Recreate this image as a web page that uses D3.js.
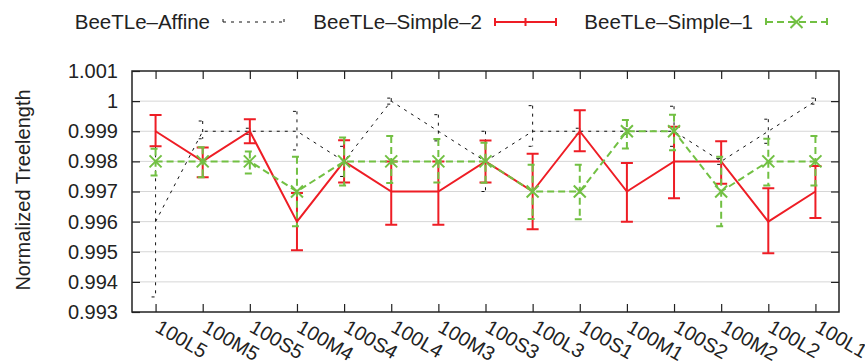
<!DOCTYPE html>
<html>
<head>
<meta charset="utf-8">
<script src="https://cdn.jsdelivr.net/npm/d3@7"></script>
<style>
  body { margin: 0; background: #fff; }
  svg { font-family: "Liberation Sans", Arial, sans-serif; }
</style>
</head>
<body>
<div id="chart"></div>
<script>
// categories and values
const categories = ["100L5", "100M5", "100S5", "100M4", "100S4", "100L4", "100M3", "100S3",
                    "100L3", "100S1", "100M1", "100S2", "100M2", "100L2", "100L1"];

const affine     = [0.996, 0.999, 0.999, 0.999, 0.998, 1.000, 0.999, 0.998, 0.999, 0.999, 0.999, 0.999, 0.998, 0.999, 1.000];
const affineLow  = [0.9935, 0.99875, 0.9989, 0.99838, 0.9975, 0.9999, 0.99868, 0.997, 0.9985, 0.9989, 0.9989, 0.9985, 0.9979, 0.9986, 0.9999];
const affineHigh = [0.9985, 0.99934, 0.9991, 0.99966, 0.9985, 1.0001, 0.99955, 0.999, 0.99985, 0.9991, 0.9991, 0.99983, 0.9981, 0.9994, 1.0001];

const simple2     = [0.999, 0.998, 0.999, 0.996, 0.998, 0.997, 0.997, 0.998, 0.997, 0.999, 0.997, 0.998, 0.998, 0.996, 0.997];
const simple2Low  = [0.9985, 0.99747, 0.9986, 0.99505, 0.9973, 0.9959, 0.9959, 0.9973, 0.99575, 0.99834, 0.996, 0.99678, 0.99726, 0.99495, 0.99612];
const simple2High = [0.99954, 0.99846, 0.9994, 0.99695, 0.9987, 0.998, 0.998, 0.99869, 0.99825, 0.9997, 0.99795, 0.99915, 0.99867, 0.99711, 0.99785];

const simple1     = [0.998, 0.998, 0.998, 0.997, 0.998, 0.998, 0.998, 0.998, 0.997, 0.997, 0.999, 0.999, 0.997, 0.998, 0.998];
const simple1Low  = [0.99753, 0.99747, 0.9976, 0.99585, 0.9972, 0.99728, 0.9973, 0.99729, 0.99609, 0.99608, 0.99843, 0.99837, 0.99585, 0.9972, 0.9972];
const simple1High = [0.99842, 0.99847, 0.99833, 0.99815, 0.99879, 0.99884, 0.99874, 0.99862, 0.99789, 0.99789, 0.99937, 0.99955, 0.99815, 0.99875, 0.99884];

const yTicks = [0.993, 0.994, 0.995, 0.996, 0.997, 0.998, 0.999, 1.000, 1.001];
const yTickLabels = ["0.993", "0.994", "0.995", "0.996", "0.997", "0.998", "0.999", "1", "1.001"];
const legendNames = ["BeeTLe\u2013Affine", "BeeTLe\u2013Simple\u20132", "BeeTLe\u2013Simple\u20131"];

const W = 865, H = 361;
const margin = { top: 71, right: 26, bottom: 49, left: 132 };
const width = W - margin.left - margin.right,
      height = H - margin.top - margin.bottom;

const RED = "#ee1d25", GREEN = "#72c043", BLACK = "#111";

const svg = d3.select("#chart").append("svg")
    .attr("width", W).attr("height", H);

const g = svg.append("g")
    .attr("transform", `translate(${margin.left},${margin.top})`);

const x = d3.scaleLinear().domain([-0.5, categories.length - 0.5]).range([0, width]);
const y = d3.scaleLinear().domain([0.993, 1.001]).range([height, 0]);

// grid lines
g.append("g").selectAll("line")
    .data(yTicks.slice(1, -1))
    .enter().append("line")
    .attr("x1", 0).attr("x2", width)
    .attr("y1", d => y(d)).attr("y2", d => y(d))
    .attr("stroke", "#d6d6d6").attr("stroke-width", 1);

// axes, ticks point inward like gnuplot
const idx = d3.range(categories.length);
function styleAxis(sel) {
    sel.select(".domain").remove();
    sel.selectAll(".tick line").attr("stroke", "#222").attr("stroke-width", 1.2);
    sel.selectAll("text").attr("fill", "#222").style("font-size", "20px");
}

g.append("g")
    .call(d3.axisLeft(y).tickValues(yTicks).tickSize(-8).tickPadding(14)
        .tickFormat((d, i) => yTickLabels[i]))
    .call(styleAxis);

g.append("g")
    .attr("transform", `translate(${width},0)`)
    .call(d3.axisRight(y).tickValues(yTicks.slice(1, -1)).tickSize(-8).tickFormat(""))
    .call(styleAxis);

g.append("g")
    .call(d3.axisTop(x).tickValues(idx).tickSize(-8).tickFormat(""))
    .call(styleAxis);

const xAxis = g.append("g")
    .attr("transform", `translate(0,${height})`)
    .call(d3.axisBottom(x).tickValues(idx).tickSize(-8).tickFormat(i => categories[i]))
    .call(styleAxis);

xAxis.selectAll("text")
    .attr("text-anchor", "start")
    .attr("dy", null)
    .attr("y", 0)
    .attr("transform", "translate(-2,19) rotate(30)");

// frame
g.append("rect")
    .attr("width", width).attr("height", height)
    .attr("fill", "none").attr("stroke", "#222").attr("stroke-width", 1.5);

// series
const series = [
    { name: legendNames[0], vals: affine, lo: affineLow, hi: affineHigh, color: BLACK, w: 1, dash: "3,5", cap: 4, marker: false },
    { name: legendNames[1], vals: simple2, lo: simple2Low, hi: simple2High, color: RED, w: 2, dash: null, cap: 6, marker: false },
    { name: legendNames[2], vals: simple1, lo: simple1Low, hi: simple1High, color: GREEN, w: 2, dash: "7,4", cap: 5, marker: true }
];

const line = d3.line().x((d, i) => x(i)).y(d => y(d));

series.forEach(function (s) {
    const sg = g.append("g");

    // error bars
    idx.forEach(function (i) {
        const cx = x(i), y0 = y(s.lo[i]), y1 = y(s.hi[i]);
        const p = d3.path();
        p.moveTo(cx - s.cap, y1); p.lineTo(cx + s.cap, y1);
        p.moveTo(cx, y1); p.lineTo(cx, y0);
        p.moveTo(cx - s.cap, y0); p.lineTo(cx + s.cap, y0);
        sg.append("path")
            .attr("d", p.toString())
            .attr("fill", "none")
            .attr("stroke", s.color)
            .attr("stroke-width", s.w)
            .attr("stroke-dasharray", s.dash);
    });

    sg.append("path")
        .datum(s.vals)
        .attr("d", line)
        .attr("fill", "none")
        .attr("stroke", s.color)
        .attr("stroke-width", s.w)
        .attr("stroke-dasharray", s.dash);

    if (s.marker) {
        sg.selectAll(".mk")
            .data(s.vals)
            .enter().append("path")
            .attr("class", "mk")
            .attr("transform", (d, i) => `translate(${x(i)},${y(d)})`)
            .attr("d", "M-6,-6L6,6M-6,6L6,-6")
            .attr("stroke", s.color)
            .attr("stroke-width", 2);
    }
});

// legend across the top
const legendX = [210, 482, 753];
const legendY = 22;
series.forEach(function (s, k) {
    const lg = svg.append("g");
    lg.append("text")
        .attr("x", legendX[k]).attr("y", legendY + 7)
        .attr("text-anchor", "end")
        .attr("fill", "#222")
        .style("font-size", "20.5px")
        .text(s.name);

    const x0 = legendX[k] + 13, x1 = x0 + 61, xm = (x0 + x1) / 2;
    const capH = s.color === BLACK ? 3 : 4;
    const p = d3.path();
    p.moveTo(x0, legendY); p.lineTo(x1, legendY);
    p.moveTo(x0, legendY - capH); p.lineTo(x0, legendY + capH);
    p.moveTo(x1, legendY - capH); p.lineTo(x1, legendY + capH);
    if (s.color === RED) { p.moveTo(xm, legendY - 4); p.lineTo(xm, legendY + 4); }
    lg.append("path")
        .attr("d", p.toString())
        .attr("fill", "none")
        .attr("stroke", s.color)
        .attr("stroke-width", s.w)
        .attr("stroke-dasharray", s.dash);
    if (s.marker) {
        lg.append("path")
            .attr("transform", `translate(${xm},${legendY})`)
            .attr("d", "M-6,-6L6,6M-6,6L6,-6")
            .attr("stroke", s.color).attr("stroke-width", 2);
    }
});

// y label
svg.append("text")
    .attr("transform", "translate(30,190) rotate(-90)")
    .attr("text-anchor", "middle")
    .attr("fill", "#222")
    .style("font-size", "20px")
    .text("Normalized Treelength");
</script>
</body>
</html>
